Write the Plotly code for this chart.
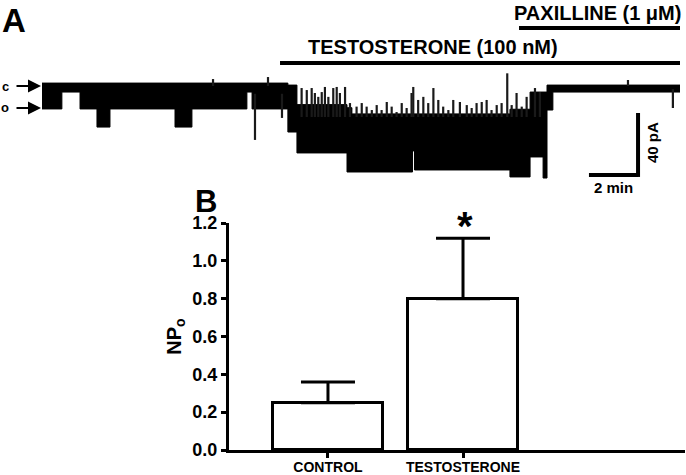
import plotly.graph_objects as go

FONT = "Liberation Sans, Arial, sans-serif"

# ---- panel A: single-channel recording, drawn as an envelope band (min, pA) ----
seg_start = [0.0, 0.81, 1.55, 2.24, 2.77, 5.42, 6.11, 8.35, 8.56, 10.02, 10.39,
             12.43, 12.63, 15.10, 15.18, 19.07, 19.89, 20.42, 20.58, 20.82]
seg_end = [0.81, 1.55, 2.24, 2.77, 5.42, 6.11, 8.35, 8.56, 10.02, 10.39, 12.43,
           12.63, 15.10, 15.18, 19.07, 19.89, 20.42, 20.58, 20.82, 26.0]
seg_top = [1.9, 1.9, 1.9, 1.9, 1.9, 1.9, 1.9, 1.9, 1.9, 0.6, -12.0,
           -14.0, -18.0, -18.0, -18.0, -15.0, -3.9, -3.9, 0.6, 0.6]
seg_bottom = [-14.8, -3.9, -14.8, -26.5, -14.8, -26.5, -14.8, -3.9, -14.8, -29.7, -43.2,
              -55.5, -55.5, -41.9, -54.2, -58.7, -45.8, -59.4, -15.5, -3.9]

# brief openings / closings sticking out of the band (min, pA base -> pA tip)
spike_t = [6.97, 8.68, 9.21, 9.78,
           10.58, 10.79, 10.99, 11.12, 11.26, 11.40, 11.53, 11.67, 11.87, 12.01,
           12.14, 12.35, 12.55, 12.82, 13.03, 13.23, 13.44, 13.64, 13.84, 14.05,
           14.25, 14.45, 14.66, 14.86, 15.06, 15.13, 15.33, 15.54, 15.74, 15.95,
           16.15, 16.35, 16.56, 16.76, 17.03, 17.31, 17.51, 17.71, 17.92, 18.12,
           18.32, 18.53, 18.73, 18.96, 19.14, 19.34, 19.55, 19.75, 20.09, 20.29,
           23.88, 25.71]
spike_base = [0.0, -5.0, 0.0, -5.0] + [-20.0] * 50 + [0.0, -2.0]
spike_tip = [4.5, -34.8, 5.8, -20.6,
             -1.3, -2.6, -1.3, -4.5, -7.0, -3.9, -0.6, -7.0, -1.3, -0.6,
             -4.5, -0.6, -11.0, -13.3, -11.0, -13.3, -15.5, -12.3, -15.5, -10.3,
             -13.3, -16.8, -11.0, -14.2, -4.5, -0.6, -9.0, -7.0, -11.0, -1.3,
             -9.0, -13.3, -15.5, -9.0, -10.3, -12.3, -14.2, -11.0, -10.3, -9.0,
             -15.5, -12.3, -11.0, 8.2, -12.3, -4.5, -13.3, -7.0, -1.3, -3.9,
             3.9, -14.2]

treat_label = ["TESTOSTERONE (100 nM)", "PAXILLINE (1 μM)"]
treat_start = [9.7, 19.44]
treat_end = [26.0, 26.0]

# ---- panel B: NPo bar chart ----
groups = ["CONTROL", "TESTOSTERONE"]
npo_mean = [0.25, 0.80]
npo_sem = [0.11, 0.32]

fig = go.Figure()

band_x, band_y = [], []
for s, e, t in zip(seg_start, seg_end, seg_top):
    band_x += [s, e]
    band_y += [t, t]
for s, e, b in reversed(list(zip(seg_start, seg_end, seg_bottom))):
    band_x += [e, s]
    band_y += [b, b]

fig.add_trace(
    go.Scatter(
        x=band_x, y=band_y, xaxis="x2", yaxis="y2",
        mode="lines", fill="toself", fillcolor="black",
        line=dict(color="black", width=1), hoverinfo="skip",
    )
)

sx, sy = [], []
for t, a, b in zip(spike_t, spike_base, spike_tip):
    sx += [t, t, None]
    sy += [a, b, None]
fig.add_trace(
    go.Scatter(
        x=sx, y=sy, xaxis="x2", yaxis="y2", mode="lines",
        line=dict(color="#1a1a1a", width=2.2), hoverinfo="skip",
    )
)

fig.add_trace(
    go.Bar(
        x=groups, y=npo_mean, width=0.815,
        marker=dict(color="white", line=dict(color="black", width=3)),
        error_y=dict(
            type="data", array=npo_sem, arrayminus=[0, 0], symmetric=False,
            color="black", thickness=3, width=27,
        ),
    )
)

shapes = []
bar_y = [1 - 63 / 475, 1 - 28 / 475]
for s, e, yy in zip(treat_start, treat_end, bar_y):
    shapes.append(dict(type="line", xref="x2", yref="paper", x0=s, x1=e, y0=yy, y1=yy,
                       line=dict(color="black", width=4)))
# scale bar: 2 min x 40 pA
shapes.append(dict(type="line", xref="x2", yref="y2", x0=22.29, x1=24.29, y0=-57.4, y1=-57.4,
                   line=dict(color="black", width=4)))
shapes.append(dict(type="line", xref="x2", yref="y2", x0=24.29, x1=24.29, y0=-58.7, y1=-17.4,
                   line=dict(color="black", width=4)))

bold = dict(family=FONT, color="black", weight="bold")
annotations = [
    dict(text="A", x=0 / 686, y=1 - 0 / 475, xanchor="left", yanchor="top",
         font=dict(bold, size=33)),
    dict(text="B", x=193 / 686, y=1 - 182 / 475, xanchor="left", yanchor="top",
         font=dict(bold, size=31)),
    dict(text=treat_label[0], x=433 / 686, y=1 - 47 / 475, font=dict(bold, size=20)),
    dict(text=treat_label[1], x=597 / 686, y=1 - 13 / 475, font=dict(bold, size=20)),
    dict(text="c", x=5 / 686, y=1 - 86 / 475, font=dict(bold, size=13)),
    dict(text="o", x=5 / 686, y=1 - 108 / 475, font=dict(bold, size=13)),
    dict(text="", x=41 / 686, y=1 - 86 / 475, ax=-26, ay=0, showarrow=True,
         arrowhead=2, arrowsize=1.3, arrowwidth=2, arrowcolor="black"),
    dict(text="", x=41 / 686, y=1 - 108 / 475, ax=-26, ay=0, showarrow=True,
         arrowhead=2, arrowsize=1.3, arrowwidth=2, arrowcolor="black"),
    dict(text="2 min", x=613 / 686, y=1 - 187 / 475, font=dict(bold, size=15)),
    dict(text="40 pA", x=652 / 686, y=1 - 143 / 475, textangle=-90, font=dict(bold, size=15)),
    dict(text="*", x=465 / 686, y=1 - 226 / 475, font=dict(bold, size=40)),
]
for a in annotations:
    a.setdefault("xref", "paper")
    a.setdefault("yref", "paper")
    a.setdefault("xanchor", "center")
    a.setdefault("yanchor", "middle")
    a.setdefault("showarrow", False)

fig.update_layout(
    width=686,
    height=475,
    margin=dict(l=0, r=0, t=0, b=0, autoexpand=False),
    paper_bgcolor="white",
    plot_bgcolor="white",
    showlegend=False,
    font=dict(family=FONT, color="black"),
    bargap=0,
    shapes=shapes,
    annotations=annotations,
    xaxis=dict(
        domain=[229 / 686, 685 / 686], type="category", range=[-0.733, 2.644],
        automargin=False,
        showline=True, linecolor="black", linewidth=3, showgrid=False, zeroline=False,
        ticks="outside", ticklen=5, tickwidth=3, tickcolor="black",
        tickfont=dict(bold, size=14), ticklabelstandoff=-3,
    ),
    yaxis=dict(
        domain=[1 - 450 / 475, 1 - 223 / 475], range=[0, 1.2], dtick=0.2, tickformat=".1f",
        automargin=False,
        showline=True, linecolor="black", linewidth=3, showgrid=False, zeroline=False,
        ticks="outside", ticklen=5, tickwidth=3, tickcolor="black",
        tickfont=dict(bold, size=18),
        title=dict(text="NP<sub>o</sub>", font=dict(bold, size=20), standoff=6),
    ),
    xaxis2=dict(domain=[42 / 686, 680 / 686], range=[0, 26], visible=False, anchor="y2",
                automargin=False),
    yaxis2=dict(domain=[1 - 185 / 475, 1 - 60 / 475], range=[-63.9, 16.8], visible=False,
                anchor="x2", automargin=False),
)

fig.write_html(
    "out.html",
    config={"displayModeBar": False},
    post_script="document.body.style.margin = '0';",
)
